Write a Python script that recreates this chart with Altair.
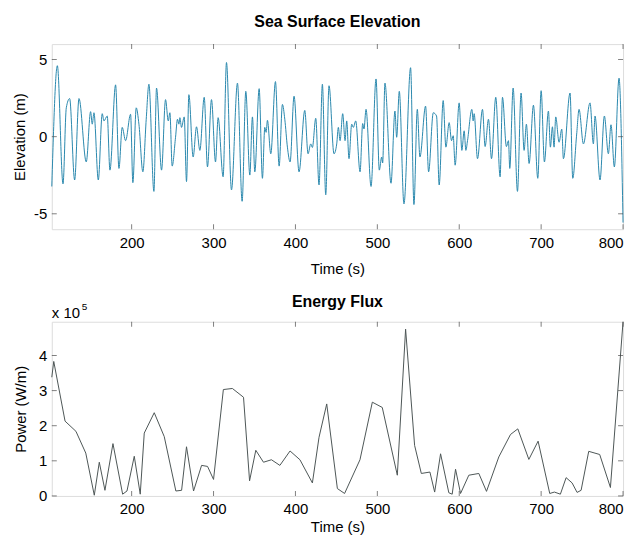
import altair as alt
import pandas as pd

# ---------------- data ----------------
elev_t = [102.5, 109.3, 116.2, 120.2, 124.3, 130.4, 135.7, 144.6, 149.9, 151.9, 154.0, 159.3,
          164.1, 166.2, 170.2, 173.5, 180.4, 184.5, 188.5, 192.6, 198.7, 201.5, 205.6, 208.9,
          213.7, 217.8,
          221.1, 227.2, 230.4, 236.5, 241.4, 244.7, 246.7, 249.5, 253.6, 256.0, 257.7, 258.9,
          260.9, 264.2, 267.0, 269.9, 275.1, 279.2, 283.3, 288.6, 292.6, 297.5, 302.4, 305.6,
          311.7, 315.8, 321.9, 329.2, 334.9,
          339.4, 344.3, 347.5, 350.4, 355.7, 359.7, 362.6, 364.2, 365.8, 369.9, 375.6, 380.1,
          384.1, 387.0, 390.2, 393.5, 398.3, 404.4, 411.4, 415.4, 418.7, 420.7, 424.8, 428.8,
          432.9, 437.0, 441.0, 447.1, 450.4,
          452.4, 454.5, 457.7, 460.6, 462.6, 465.4, 468.7, 470.7, 473.6, 478.9, 482.1, 483.7,
          486.2, 492.3, 498.4, 502.4, 505.3, 506.5, 509.3, 516.7, 521.5, 523.6, 526.8, 532.5,
          540.6, 544.7, 548.8, 552.0, 558.9, 562.6, 568.3,
          572.3, 575.5, 580.4, 583.7, 587.7, 590.6, 592.6, 595.0, 599.9, 603.2, 606.0, 608.1,
          610.1, 615.4, 617.0, 618.2, 622.3, 628.4, 631.6, 635.7, 639.4, 644.6, 649.9, 652.8,
          657.6, 660.1, 661.7, 665.8, 671.1, 675.5, 679.2, 682.0, 685.3,
          690.6, 695.9, 700.0, 704.0, 708.9, 711.3, 713.8, 715.8, 717.8, 721.9, 725.2, 727.2,
          735.3, 738.6, 743.4, 746.3, 751.6, 759.7, 763.8, 765.8, 771.9, 777.2, 782.1, 785.3,
          789.4, 795.1, 800.0]
elev_v = [-3.23, 4.60, -3.06, 1.87, 2.47, -2.81, 2.47, -1.64, 1.62, 0.81, 1.55, -2.81,
          1.49, 1.02, 1.34, -2.17, 3.36, -2.06, 0.60, -0.26, 1.45, -2.98, 1.87, 0.81,
          -2.28, 1.13,
          3.40, -3.55, 3.15, -2.17, 2.40, 1.02, 1.55, -1.91, -0.04, 1.13, 0.81, 1.23,
          0.60, 1.28, -2.91, 2.72, -1.32, 0.64, -0.89, 2.55, -1.96, 2.40, -1.64, 1.23,
          -2.60, 4.81, -3.45, 3.47, -4.19,
          2.94, -2.49, 1.28, -2.28, 3.11, -2.70, 0.60, 0.28, 1.06, -1.11, 3.57, -1.91,
          2.09, 1.13, -0.68, -1.64, 2.62, -2.28, 1.70, -1.11, -0.47, -0.70, 1.19, -3.13,
          3.40, -3.77, 3.30, -1.11, -0.47,
          0.60, -0.26, 1.49, -0.26, 1.02, -1.43, 0.81, 0.60, 1.02, -2.28, 0.85, 0.50,
          1.77, -3.23, 3.74, -2.17, -1.32, -1.70, 3.47, -3.02, 1.66, -0.04, 2.94, -4.36,
          4.47, -4.40, 1.77, -1.32, 1.98, -2.28, 1.55,
          1.34, -3.13, 2.34, -0.68, 0.91, -0.26, 0.06, -1.85, 2.19, -0.89, 0.38, -0.89,
          -0.26, 1.77, 1.02, 1.49, -1.43, 1.77, -0.64, 1.13, -1.43, 2.55, -2.60, 2.55,
          -0.64, -0.26, -2.06, 3.15, -3.55, 2.83, -0.89, 0.81, -1.74,
          2.04, -2.70, 2.98, -1.64, 1.66, -0.68, 0.64, -0.68, 1.28, -0.36, 0.49, -1.43,
          2.83, -2.70, 0.17, 1.77, -0.47, 2.19, -0.47, 1.34, -2.81, 1.34, -1.11, 0.77,
          -1.96, 3.79, -5.57]

flux_t = [102.5, 104.9, 118.7, 132.0, 144.0, 154.4, 160.5, 167.4, 177.2, 189.0, 194.3, 203.2,
          210.5, 215.4, 227.6, 239.8, 254.0, 261.0, 267.0, 275.6, 285.4, 292.7, 300.0, 312.0,
          323.0, 336.6, 344.0, 351.6, 361.0, 370.7, 381.0, 393.4, 405.5, 420.7, 428.8, 438.2,
          451.2, 460.0, 478.8, 493.9, 506.0, 524.4, 534.5, 545.5, 553.7, 564.2, 570.0, 577.2,
          587.3, 591.4, 595.5, 601.6, 611.7, 623.9, 633.3, 648.3, 662.6, 671.5, 685.0, 696.3,
          710.5, 716.2, 723.5, 730.5, 737.8, 743.9, 748.8, 758.1, 771.5, 784.6, 800.0]
flux_v = [3.38e5, 3.83e5, 2.13e5, 1.84e5, 1.22e5, 0.02e5, 0.96e5, 0.16e5, 1.49e5, 0.05e5,
          0.14e5, 1.13e5, 0.05e5, 1.79e5, 2.37e5, 1.69e5, 0.14e5, 0.16e5, 1.40e5, 0.14e5,
          0.87e5, 0.84e5, 0.47e5, 3.03e5, 3.06e5, 2.81e5, 0.43e5, 1.30e5, 0.96e5, 1.03e5,
          0.87e5, 1.28e5, 1.03e5, 0.37e5, 1.67e5, 2.62e5, 0.21e5, 0.07e5, 1.03e5, 2.67e5,
          2.52e5, 0.59e5, 4.75e5, 1.44e5, 0.64e5, 0.68e5, 0.11e5, 1.20e5, 0.09e5, 0.05e5,
          0.76e5, 0.07e5, 0.59e5, 0.64e5, 0.13e5, 1.11e5, 1.75e5, 1.91e5, 1.04e5, 1.56e5,
          0.07e5, 0.11e5, 0.05e5, 0.52e5, 0.37e5, 0.10e5, 0.16e5, 1.27e5, 1.18e5, 0.24e5,
          4.96e5]

x_ticks = [200, 300, 400, 500, 600, 700, 800]
elev_ticks = [-5, 0, 5]
flux_ticks = [0, 1e5, 2e5, 3e5, 4e5]

# ---------------- styling ----------------
FONT = "Liberation Sans"
W = 574
H1 = 186
H2 = 175
BOX = "#4a4a4a"
X_DOMAIN = [102.5, 800]

elev_df = pd.DataFrame({"t": elev_t, "v": elev_v})
flux_df = pd.DataFrame({"t": flux_t, "v": flux_v})


def common_axis(**kw):
    base = dict(grid=False, ticks=False, domain=False, labelFontSize=15, titleFontSize=15,
                titleFontWeight="normal", labelColor="black", titleColor="black",
                labelFont=FONT, titleFont=FONT)
    base.update(kw)
    return alt.Axis(**base)


def inner_ticks(xscale, xaxis, yscale, yaxis, yticks, H):
    xt = pd.DataFrame({"t": x_ticks})
    yt = pd.DataFrame({"v": yticks})
    layers = []
    for yv in (2.5, H - 2.5):
        layers.append(
            alt.Chart(xt).mark_tick(orient="vertical", size=5, thickness=1, color=BOX)
            .encode(x=alt.X("t:Q", scale=xscale, axis=xaxis), y=alt.value(yv))
        )
    for xv in (2.5, W - 2.5):
        layers.append(
            alt.Chart(yt).mark_tick(orient="horizontal", size=5, thickness=1, color=BOX)
            .encode(y=alt.Y("v:Q", scale=yscale, axis=yaxis), x=alt.value(xv))
        )
    return layers


HYPHEN_LABEL = "datum.value < 0 ? '-' + format(-datum.value, 'd') : format(datum.value, 'd')"

# ---- top panel ----
xs1 = alt.Scale(domain=X_DOMAIN, nice=False, zero=False)
ys1 = alt.Scale(domain=[-6, 6], nice=False, zero=False)
xa1 = common_axis(values=x_ticks, title="Time (s)", labelPadding=6, titlePadding=12)
ya1 = common_axis(values=elev_ticks, labelExpr=HYPHEN_LABEL, title="Elevation (m)",
                  labelPadding=5, titlePadding=6)

elev_line = alt.Chart(elev_df).mark_line(color="#2a88ad", strokeWidth=1,
                                          interpolate="monotone").encode(
    x=alt.X("t:Q", scale=xs1, axis=xa1),
    y=alt.Y("v:Q", scale=ys1, axis=ya1),
)

top = alt.layer(elev_line, *inner_ticks(xs1, xa1, ys1, ya1, elev_ticks, H1)).properties(
    width=W, height=H1,
    title=alt.TitleParams("Sea Surface Elevation", fontSize=16, fontWeight="bold",
                          font=FONT, offset=14, color="black", frame="group"),
)

# ---- bottom panel ----
xs2 = alt.Scale(domain=X_DOMAIN, nice=False, zero=False)
ys2 = alt.Scale(domain=[0, 4.96e5], nice=False, zero=False)
xa2 = common_axis(values=x_ticks, title="Time (s)", labelPadding=6, titlePadding=3)
ya2 = common_axis(values=flux_ticks, labelExpr="format(datum.value / 100000, 'd')",
                  title="Power (W/m)", labelPadding=5, titlePadding=10)

flux_line = alt.Chart(flux_df).mark_line(color="#4d5656", strokeWidth=1).encode(
    x=alt.X("t:Q", scale=xs2, axis=xa2),
    y=alt.Y("v:Q", scale=ys2, axis=ya2),
)

exp_df = pd.DataFrame({"s": ["x 10"]})
sup_df = pd.DataFrame({"s": ["5"]})
exp_text = alt.Chart(exp_df).mark_text(font=FONT, fontSize=15, align="left",
                                       baseline="alphabetic", color="black").encode(
    text="s:N", x=alt.value(0), y=alt.value(-4))
sup_text = alt.Chart(sup_df).mark_text(font=FONT, fontSize=10, align="left",
                                       baseline="alphabetic", color="black").encode(
    text="s:N", x=alt.value(30), y=alt.value(-12))

bottom = alt.layer(flux_line, exp_text, sup_text,
                   *inner_ticks(xs2, xa2, ys2, ya2, flux_ticks, H2)).properties(
    width=W, height=H2,
    title=alt.TitleParams("Energy Flux", fontSize=16, fontWeight="bold",
                          font=FONT, offset=-8, color="black", frame="group"),
)

chart = alt.vconcat(top, bottom, spacing=15).resolve_scale(x="independent").configure_view(
    stroke=BOX, strokeWidth=1
).configure(background="white", padding={"left": 4, "top": 4, "right": 5, "bottom": 2})

chart.save("out.html", embed_options={"renderer": "svg", "actions": False})
